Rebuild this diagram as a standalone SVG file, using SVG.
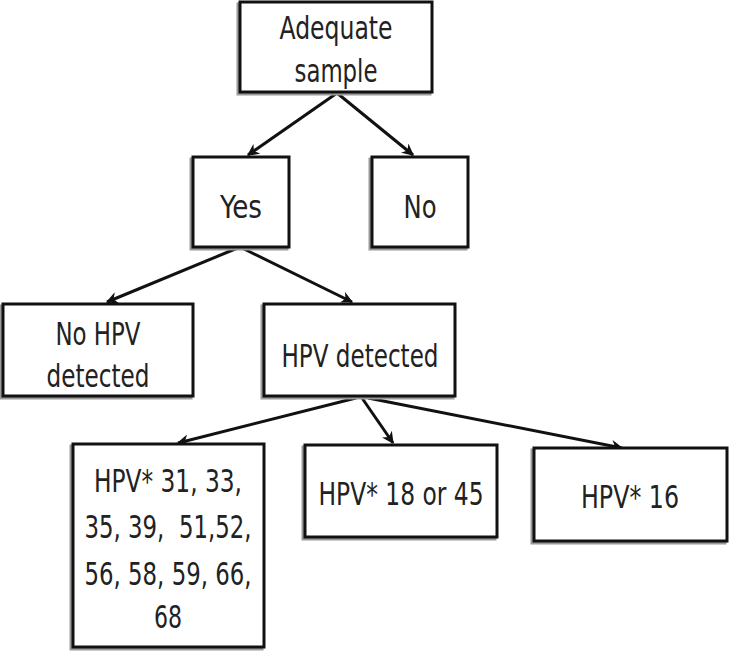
<svg xmlns="http://www.w3.org/2000/svg" width="730" height="652" viewBox="0 0 730 652">
<style>
.box{fill:#fff;stroke:#111;stroke-width:3}
.sh{fill:none;stroke:#9a9a9a;stroke-width:3}
.t{font-family:"Liberation Sans Narrow","DejaVu Sans Condensed","Liberation Sans",sans-serif;font-size:32px;fill:#222;text-anchor:middle;white-space:pre}
.c{fill:none;stroke:#111;stroke-width:3;marker-end:url(#ah)}
</style>
<defs>
<marker id="ah" viewBox="0 0 10 10" refX="9" refY="5" markerWidth="4" markerHeight="4" orient="auto" markerUnits="strokeWidth">
<path d="M0,0 L10,5 L0,10 L3,5 Z" fill="#111"/>
</marker>
</defs>
<rect width="730" height="652" fill="#fff"/>
<g id="connectors">
<line class="c" x1="337" y1="93" x2="248" y2="155"/>
<line class="c" x1="337" y1="93" x2="413" y2="155"/>
<line class="c" x1="240" y1="247" x2="107" y2="302"/>
<line class="c" x1="240" y1="247" x2="352" y2="302"/>
<line class="c" x1="356" y1="398" x2="178" y2="443"/>
<line class="c" x1="362" y1="398" x2="393" y2="443"/>
<line class="c" x1="368" y1="398" x2="622" y2="448"/>
</g>
<g id="adequate">
<rect class="sh" x="238" y="4" width="192" height="90"/>
<rect class="box" x="240" y="2" width="192" height="90"/>
<text class="t" x="336" y="39" textLength="113" lengthAdjust="spacingAndGlyphs">Adequate</text>
<text class="t" x="336" y="82" textLength="83" lengthAdjust="spacingAndGlyphs">sample</text>
</g>
<g id="yes">
<rect class="sh" x="191" y="159" width="96" height="90"/>
<rect class="box" x="193" y="157" width="96" height="90"/>
<text class="t" x="241" y="218" textLength="42" lengthAdjust="spacingAndGlyphs">Yes</text>
</g>
<g id="no">
<rect class="sh" x="370" y="159" width="96" height="90"/>
<rect class="box" x="372" y="157" width="96" height="90"/>
<text class="t" x="420" y="218" textLength="33" lengthAdjust="spacingAndGlyphs">No</text>
</g>
<g id="no-hpv">
<rect class="sh" x="1" y="306" width="190" height="92"/>
<rect class="box" x="3" y="304" width="190" height="92"/>
<text class="t" x="98" y="345" textLength="85" lengthAdjust="spacingAndGlyphs">No HPV</text>
<text class="t" x="98" y="387" textLength="103" lengthAdjust="spacingAndGlyphs">detected</text>
</g>
<g id="hpv-detected">
<rect class="sh" x="262" y="306" width="191" height="92"/>
<rect class="box" x="264" y="304" width="191" height="92"/>
<text class="t" x="360" y="367" textLength="157" lengthAdjust="spacingAndGlyphs">HPV detected</text>
</g>
<g id="hpv-other">
<rect class="sh" x="71" y="446" width="191" height="203"/>
<rect class="box" x="73" y="444" width="191" height="203"/>
<text class="t" x="168" y="492" textLength="148" lengthAdjust="spacingAndGlyphs">HPV* 31, 33,</text>
<text class="t" x="168" y="538" textLength="167" lengthAdjust="spacingAndGlyphs">35, 39,  51,52,</text>
<text class="t" x="168" y="585" textLength="167" lengthAdjust="spacingAndGlyphs">56, 58, 59, 66,</text>
<text class="t" x="168" y="628" textLength="28" lengthAdjust="spacingAndGlyphs">68</text>
</g>
<g id="hpv-18-45">
<rect class="sh" x="303" y="447" width="192" height="92"/>
<rect class="box" x="305" y="445" width="192" height="92"/>
<text class="t" x="401" y="505" textLength="165" lengthAdjust="spacingAndGlyphs">HPV* 18 or 45</text>
</g>
<g id="hpv-16">
<rect class="sh" x="532" y="450" width="193" height="93"/>
<rect class="box" x="534" y="448" width="193" height="93"/>
<text class="t" x="630" y="508" textLength="98" lengthAdjust="spacingAndGlyphs">HPV* 16</text>
</g>
</svg>
